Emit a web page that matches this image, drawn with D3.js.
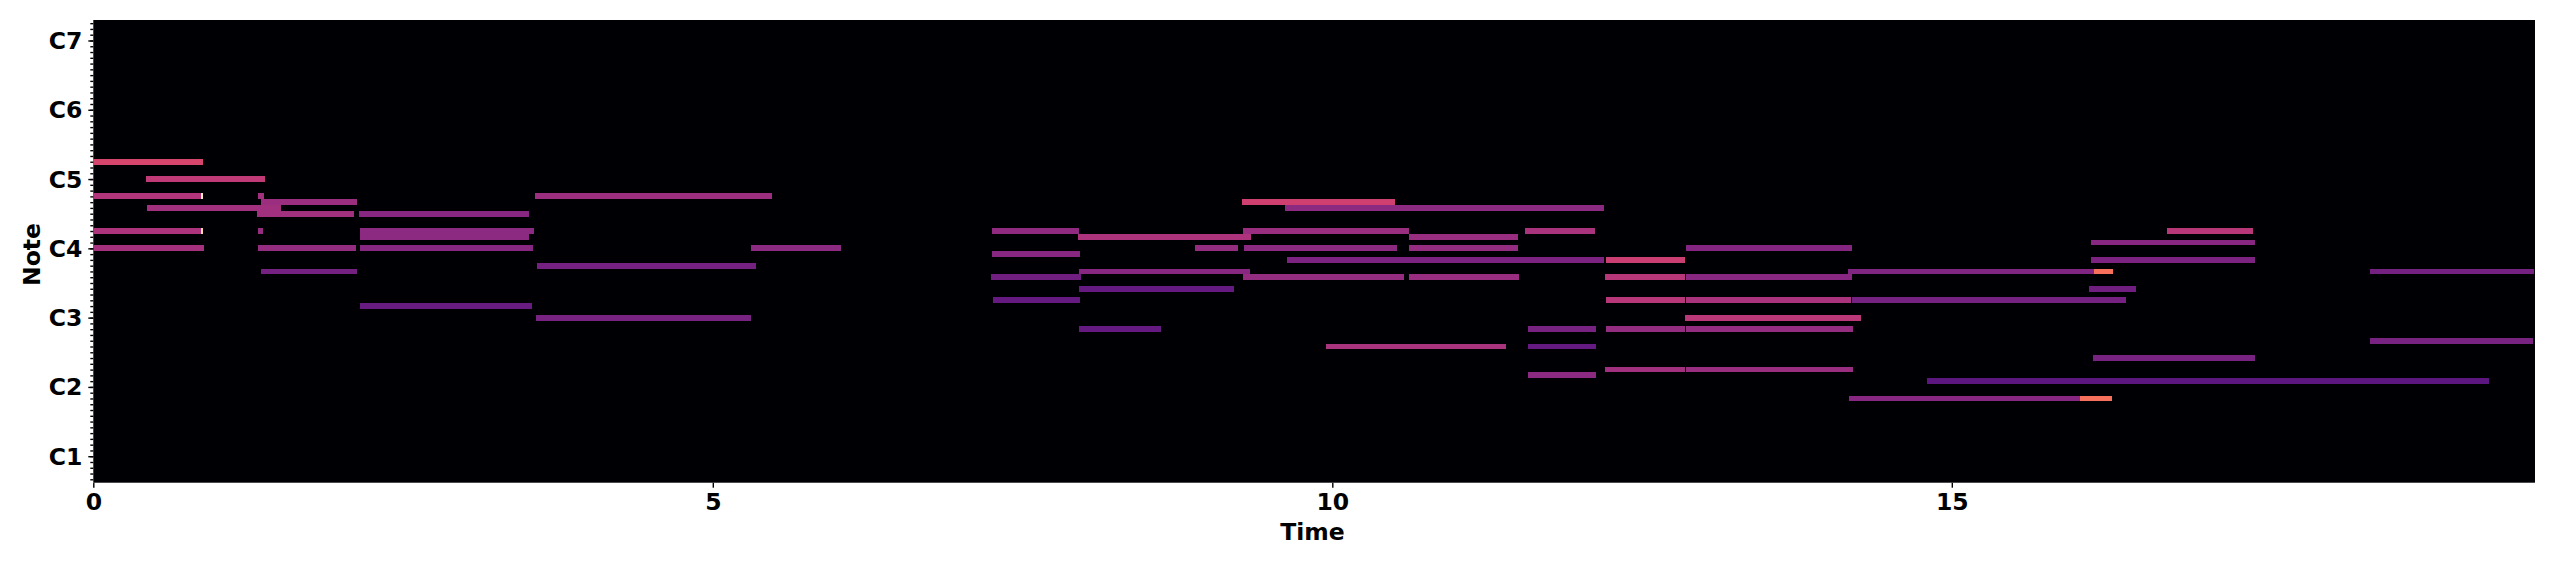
<!DOCTYPE html>
<html><head><meta charset="utf-8">
<script src="https://d3js.org/d3.v7.min.js"></script>
<style>html,body{margin:0;padding:0;background:#fff}svg{display:block}</style>
</head><body><svg id="c" width="2553" height="565"></svg>
<script>
const pitches=[75,72,69,69,69,68,67,66,63,63,63,60,60,56,66,63,62,60,60,69,57,50,48,
68,67,63,63,63,62,62,60,60,60,60,59,58,58,58,56,56,56,56,55,55,55,55,55,53,53,51,51,51,51,48,46,46,46,46,43,43,39,39,38,37,34,34,61,63,44,41];
const starts=[0,.425,0,.87,1.33,1.353,.433,1.321,0,.87,1.33,0,1.33,1.351,2.143,2.152,2.152,2.152,5.306,3.565,3.583,2.152,3.574,
9.27,9.616,7.253,9.279,11.554,7.949,10.617,8.89,9.287,10.617,12.854,7.253,9.633,12.208,16.123,7.953,14.16,16.149,18.375,7.244,9.279,10.617,12.2,12.854,7.953,16.106,7.26,12.21,12.854,14.196,12.845,7.953,11.58,12.21,12.854,9.948,11.58,12.2,12.854,11.58,14.8,14.17,16.035,16.123,16.738,18.375,16.14];
const ends=[.885,1.386,.87,.885,1.378,2.128,1.515,2.104,.87,.885,1.37,.893,2.12,2.128,3.517,3.557,3.517,3.548,6.032,5.476,5.35,3.539,5.306,
10.51,12.19,7.953,10.617,12.117,9.344,11.496,9.24,10.52,11.496,14.196,7.96,12.19,12.845,17.447,9.335,16.149,16.30,19.70,7.97,10.578,11.505,12.845,14.196,9.204,16.488,7.96,12.845,14.188,16.405,14.267,8.62,12.127,12.845,14.2,11.40,12.127,12.845,14.2,12.127,19.337,16.035,16.294,17.447,17.43,19.69,17.447];
const levels=[.58,.52,.49,.97,.45,.44,.45,.45,.48,.93,.42,.46,.42,.34,.39,.4,.4,.39,.4,.44,.34,.31,.35,
.56,.4,.41,.43,.47,.48,.43,.42,.4,.42,.38,.39,.36,.55,.36,.39,.37,.7,.34,.33,.42,.43,.5,.39,.3,.33,.3,.5,.47,.34,.51,.3,.35,.42,.42,.47,.3,.45,.43,.4,.28,.39,.7,.39,.5,.35,.35];
const xTicks=[0,5,10,15];
const octaves=[1,2,3,4,5,6,7];
const xLabel="Time", yLabel="Note";

const L=93.3,R=2535,T=20,B=482.7;
const x=d3.scaleLinear().domain([0,19.707]).range([L,R]);
const y=d3.scaleLinear().domain([19.5,99.5]).range([482.19,20.274]);
const color=d3.scaleSequential(d3.interpolateMagma).domain([0,1]);
const svg=d3.select("#c");
const font='"DejaVu Sans",sans-serif';
const fs=23.5;

svg.append("rect").attr("x",L).attr("y",T).attr("width",R-L).attr("height",B-T).attr("fill","#000004");

svg.append("g").selectAll("rect").data(pitches.map((p,i)=>i)).join("rect")
  .attr("shape-rendering","crispEdges")
  .attr("x",i=>x(starts[i])).attr("width",i=>x(ends[i])-x(starts[i]))
  .attr("y",i=>Math.round(y(pitches[i]+.5))).attr("height",i=>Math.round(y(pitches[i]-.5))-Math.round(y(pitches[i]+.5)))
  .attr("fill",i=>color(levels[i]));

const style=g=>{g.select(".domain").remove();
  g.selectAll("line").attr("stroke","#000").attr("stroke-width",1.4);
  g.selectAll("text").attr("font-family",font).attr("font-weight","bold").attr("font-size",fs).attr("fill","#000");};

svg.append("g").attr("transform",`translate(0,${B})`)
  .call(d3.axisBottom(x).tickValues(xTicks).tickFormat(d3.format("d")).tickSize(5).tickPadding(6)).call(style);

const minor=d3.range(20,100);
svg.append("g").attr("transform",`translate(${L},0)`)
  .call(d3.axisLeft(y).tickValues(minor).tickFormat("").tickSize(3)).call(style);
const yMajor=svg.append("g").attr("transform",`translate(${L},0)`)
  .call(d3.axisLeft(y).tickValues(octaves.map(o=>12*(o+1))).tickFormat(v=>"C"+(v/12-1)).tickSize(5).tickPadding(6)).call(style);
yMajor.selectAll("text").attr("dy","0.34em");

svg.append("text").attr("x",1312.5).attr("y",540).attr("text-anchor","middle")
  .attr("font-family",font).attr("font-weight","bold").attr("font-size",fs).text(xLabel);
svg.append("text").attr("transform",`translate(39.5,254.5) rotate(-90)`).attr("text-anchor","middle")
  .attr("font-family",font).attr("font-weight","bold").attr("font-size",fs).text(yLabel);
</script></body></html>
